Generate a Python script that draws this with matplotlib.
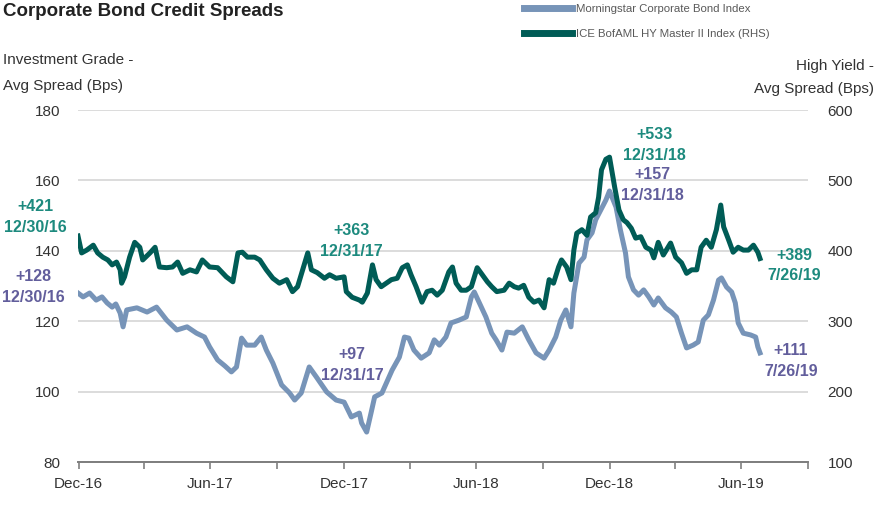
import pandas as pd
import matplotlib
matplotlib.use('Agg')
import matplotlib.pyplot as plt

plt.rcParams['font.family'] = ['Liberation Sans', 'DejaVu Sans']

# Morningstar Corporate Bond Index (left axis, bps)
ig_dates = ['2016-12-30', '2017-01-06', '2017-01-15', '2017-01-24', '2017-02-01', '2017-02-08',
            '2017-02-15', '2017-02-20', '2017-02-26', '2017-03-02', '2017-03-07', '2017-03-21',
            '2017-04-04', '2017-04-17', '2017-05-01', '2017-05-15', '2017-05-29', '2017-06-11',
            '2017-06-22', '2017-06-29', '2017-07-10', '2017-07-20', '2017-07-29', '2017-08-05',
            '2017-08-12', '2017-08-19', '2017-08-30', '2017-09-08', '2017-09-15', '2017-09-24',
            '2017-10-06', '2017-10-17', '2017-10-24', '2017-11-02', '2017-11-13', '2017-11-23',
            '2017-12-07', '2017-12-20', '2017-12-31', '2018-01-10', '2018-01-21', '2018-01-24',
            '2018-01-31', '2018-02-06', '2018-02-11', '2018-02-21', '2018-03-07', '2018-03-17',
            '2018-03-24', '2018-03-30', '2018-04-06', '2018-04-16', '2018-04-27', '2018-05-04',
            '2018-05-11', '2018-05-20', '2018-05-27', '2018-06-07', '2018-06-17', '2018-06-24',
            '2018-06-28', '2018-07-05', '2018-07-14', '2018-07-22', '2018-07-28', '2018-08-05',
            '2018-08-12', '2018-08-22', '2018-09-02', '2018-09-11', '2018-09-21', '2018-10-02',
            '2018-10-09', '2018-10-18', '2018-10-25', '2018-11-01', '2018-11-08', '2018-11-12',
            '2018-11-19', '2018-11-26', '2018-11-30', '2018-12-07', '2018-12-12', '2018-12-19',
            '2018-12-26', '2018-12-31', '2019-01-09', '2019-01-15', '2019-01-22', '2019-01-26',
            '2019-02-02', '2019-02-09', '2019-02-16', '2019-02-23', '2019-03-02', '2019-03-08',
            '2019-03-18', '2019-03-26', '2019-04-02', '2019-04-09', '2019-04-16', '2019-04-25',
            '2019-05-02', '2019-05-09', '2019-05-16', '2019-05-23', '2019-05-30', '2019-06-03',
            '2019-06-10', '2019-06-17', '2019-06-22', '2019-06-26', '2019-07-03', '2019-07-13',
            '2019-07-20', '2019-07-23', '2019-07-26']
ig_vals = [128, 126.9, 128, 126, 126.9, 125.2,
           124, 124.9, 122.3, 118.4, 123.2, 123.8,
           122.6, 124, 120.3, 117.5, 118.4, 116.6,
           115.5, 112.7, 109, 107.3, 105.6, 107,
           115.2, 113.2, 113.2, 115.5, 111.8, 108.1,
           101.9, 99.6, 97.6, 99.6, 107, 104.1,
           99.9, 97.6, 97, 92.8, 93.9, 91.1,
           88.5, 93.9, 98.5, 99.6, 106.1, 109.8,
           115.5, 115.2, 111.8, 109.5, 111, 114.7,
           113.2, 115.5, 119.5, 120.3, 121.2, 126.9,
           128.3, 125.2, 121.2, 116.6, 114.7, 111.8,
           116.9, 116.6, 118.4, 114.7, 111, 109.5,
           111.8, 115.5, 120.3, 123.2, 118.4, 128,
           136.5, 138.2, 143.1, 145.1, 148.8, 151.6,
           154.4, 157, 152.4, 145.9, 139.4, 132.6,
           128.9, 127.4, 128.9, 126.9, 124.6, 126.6,
           123.8, 122.6, 121.2, 116.6, 112.4, 113.2,
           114.1, 120.3, 121.8, 126, 131.7, 132.3,
           129.7, 128.3, 125.2, 119.5, 116.6, 116.1,
           115.5, 112.7, 111]

# ICE BofAML HY Master II Index (right axis, bps)
hy_dates = ['2016-12-30', '2017-01-04', '2017-01-11', '2017-01-20', '2017-01-26', '2017-02-02',
            '2017-02-09', '2017-02-15', '2017-02-21', '2017-02-26', '2017-02-28', '2017-03-04',
            '2017-03-11', '2017-03-18', '2017-03-25', '2017-03-29', '2017-04-08', '2017-04-15',
            '2017-04-21', '2017-05-01', '2017-05-09', '2017-05-16', '2017-05-23', '2017-06-02',
            '2017-06-11', '2017-06-19', '2017-06-29', '2017-07-10', '2017-07-22', '2017-07-31',
            '2017-08-07', '2017-08-13', '2017-08-20', '2017-08-30', '2017-09-06', '2017-09-15',
            '2017-09-24', '2017-10-03', '2017-10-13', '2017-10-21', '2017-10-28', '2017-11-04',
            '2017-11-11', '2017-11-16', '2017-11-24', '2017-12-04', '2017-12-11', '2017-12-20',
            '2017-12-31', '2018-01-03', '2018-01-11', '2018-01-21', '2018-01-25', '2018-02-01',
            '2018-02-08', '2018-02-13', '2018-02-20', '2018-02-27', '2018-03-06', '2018-03-14',
            '2018-03-21', '2018-03-28', '2018-04-02', '2018-04-09', '2018-04-17', '2018-04-24',
            '2018-05-01', '2018-05-08', '2018-05-15', '2018-05-24', '2018-05-29', '2018-06-03',
            '2018-06-10', '2018-06-17', '2018-06-24', '2018-07-02', '2018-07-09', '2018-07-16',
            '2018-07-22', '2018-07-29', '2018-08-08', '2018-08-15', '2018-08-22', '2018-08-28',
            '2018-09-04', '2018-09-11', '2018-09-18', '2018-09-25', '2018-10-02', '2018-10-09',
            '2018-10-15', '2018-10-22', '2018-10-26', '2018-11-02', '2018-11-08', '2018-11-12',
            '2018-11-16', '2018-11-23', '2018-11-30', '2018-12-05', '2018-12-12', '2018-12-16',
            '2018-12-20', '2018-12-26', '2018-12-31', '2019-01-07', '2019-01-13', '2019-01-19',
            '2019-01-24', '2019-01-30', '2019-02-05', '2019-02-12', '2019-02-19', '2019-02-26',
            '2019-03-02', '2019-03-08', '2019-03-15', '2019-03-25', '2019-04-01', '2019-04-09',
            '2019-04-16', '2019-04-23', '2019-04-30', '2019-05-06', '2019-05-13', '2019-05-20',
            '2019-05-27', '2019-06-02', '2019-06-06', '2019-06-13', '2019-06-19', '2019-06-26',
            '2019-07-03', '2019-07-10', '2019-07-17', '2019-07-23', '2019-07-26']
hy_vals = [421, 397, 401, 408, 397, 391,
           387, 380, 384, 373, 354, 363,
           391, 412, 405, 387, 397, 405,
           377, 376, 377, 384, 368, 373,
           370, 387, 377, 376, 363, 356,
           397, 398, 391, 391, 387, 373,
           361, 354, 359, 342, 349, 373,
           397, 373, 369, 361, 366, 361,
           363, 342, 334, 330, 327, 340,
           380, 359, 349, 354, 359, 361,
           376, 380, 366, 349, 327, 342,
           344, 337, 344, 370, 377, 354,
           344, 344, 349, 376, 366, 356,
           349, 342, 344, 354, 349, 347,
           351, 334, 327, 330, 319, 359,
           354, 377, 387, 377, 359, 401,
           425, 430, 422, 448, 454, 476,
           515, 530, 533, 491, 458, 444,
           440, 432, 418, 420, 405, 401,
           390, 412, 394, 411, 391, 383,
           368, 373, 373, 405, 415, 405,
           430, 465, 434, 415, 398, 405,
           401, 401, 408, 398, 389]

x_ticks = ['2016-12-31', '2017-03-31', '2017-06-30', '2017-09-30', '2017-12-31', '2018-03-31',
           '2018-06-30', '2018-09-30', '2018-12-31', '2019-03-31', '2019-06-30', '2019-09-30']
x_labels = ['Dec-16', '', 'Jun-17', '', 'Dec-17', '', 'Jun-18', '', 'Dec-18', '', 'Jun-19', '']

ig_color = '#7794b8'
hy_color = '#005c56'
teal_txt = '#1d8a7e'
purple_txt = '#625e9c'
txt_color = '#333333'

fig = plt.figure(figsize=(8.74, 5.08), dpi=100)
ax = fig.add_axes([78 / 874, 46 / 508, 730 / 874, 352 / 508])
ax2 = ax.twinx()

l1, = ax.plot(pd.to_datetime(ig_dates), ig_vals, color=ig_color, lw=3.6,
              solid_joinstyle='round', label='Morningstar Corporate Bond Index')
l2, = ax2.plot(pd.to_datetime(hy_dates), hy_vals, color=hy_color, lw=3.6,
               solid_joinstyle='round', label='ICE BofAML HY Master II Index (RHS)')

ax.set_xlim(pd.Timestamp('2016-12-30'), pd.Timestamp('2019-09-30'))
ax.set_ylim(80, 180)
ax2.set_ylim(100, 600)
ax.set_yticks([80, 100, 120, 140, 160, 180])
ax2.set_yticks([100, 200, 300, 400, 500, 600])
ax.set_xticks(pd.to_datetime(x_ticks))
ax.set_xticklabels(x_labels)

ax.grid(axis='y', color='#d9d9d9', lw=1.3)
ax.set_axisbelow(True)
for a in (ax, ax2):
    for s in ('top', 'left', 'right'):
        a.spines[s].set_visible(False)
    a.spines['bottom'].set_color('#7f7f7f')
    a.spines['bottom'].set_linewidth(1.3)
ax.tick_params(axis='x', length=5, width=1.2, color='#7f7f7f', pad=6,
               labelsize=11, labelcolor=txt_color)
ax.tick_params(axis='y', length=0, pad=13, labelsize=11, labelcolor=txt_color)
ax2.tick_params(axis='y', length=0, pad=14, labelsize=11, labelcolor=txt_color)

# titles
fig.text(3 / 874, 1 - 12 / 508, 'Corporate Bond Credit Spreads', fontsize=13.5,
         fontweight='bold', color='#222222', va='center', ha='left')
fig.text(3 / 874, 1 - 60 / 508, 'Investment Grade -', fontsize=11, color=txt_color,
         va='center', ha='left')
fig.text(3 / 874, 1 - 86 / 508, 'Avg Spread (Bps)', fontsize=11, color=txt_color,
         va='center', ha='left')
fig.text(1.0, 1 - 66 / 508, 'High Yield -', fontsize=11, color=txt_color,
         va='center', ha='right')
fig.text(1.0, 1 - 89 / 508, 'Avg Spread (Bps)', fontsize=11, color=txt_color,
         va='center', ha='right')

fig.legend(handles=[l1, l2], loc='upper left', bbox_to_anchor=(524 / 874, 1 - 4 / 508),
           frameon=False, fontsize=8.2, handlelength=4.2, handletextpad=0.35,
           labelspacing=1.35, borderpad=0, borderaxespad=0, labelcolor='#595959')
for h in fig.legends[0].get_lines():
    h.set_linewidth(5)

# value callouts
notes = [
    (ax2, '2016-12-30', 421, '+421\n12/30/16', teal_txt, (-43, 19)),
    (ax, '2016-12-30', 128, '+128\n12/30/16', purple_txt, (-45, 6)),
    (ax2, '2017-12-31', 363, '+363\n12/31/17', teal_txt, (7, 36)),
    (ax, '2017-12-31', 97, '+97\n12/31/17', purple_txt, (8, 37)),
    (ax2, '2018-12-31', 533, '+533\n12/31/18', teal_txt, (45, 12)),
    (ax, '2018-12-31', 157, '+157\n12/31/18', purple_txt, (43, 6)),
    (ax2, '2019-07-26', 389, '+389\n7/26/19', teal_txt, (34, -7)),
    (ax, '2019-07-26', 111, '+111\n7/26/19', purple_txt, (31, -8)),
]
for a, d, v, s, c, off in notes:
    a.annotate(s, xy=(pd.Timestamp(d), v), xytext=off, textcoords='offset pixels',
               ha='center', va='center', fontsize=11.5, fontweight='bold', color=c,
               linespacing=1.45, annotation_clip=False)

fig.savefig('out.png', dpi=100)
